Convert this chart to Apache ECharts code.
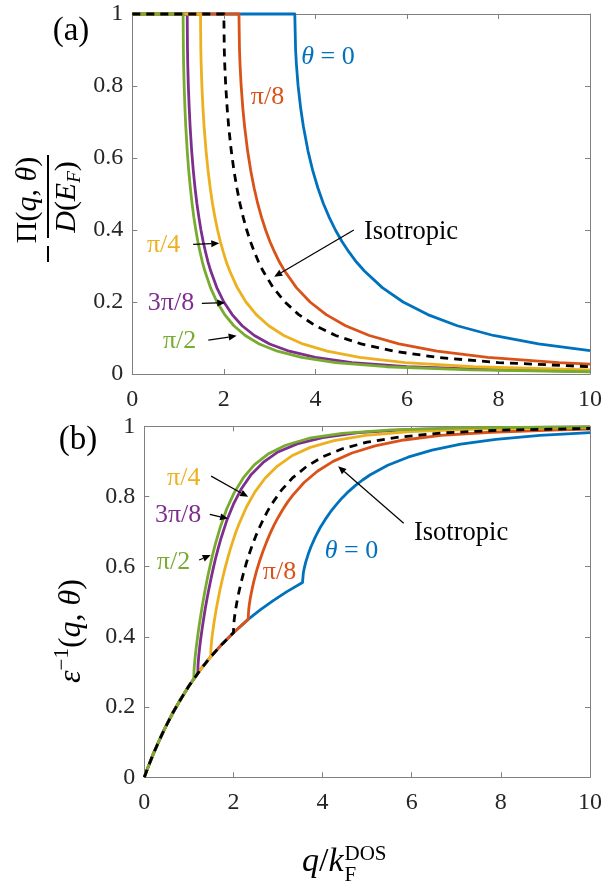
<!DOCTYPE html>
<html>
<head>
<meta charset="utf-8">
<script src="https://cdn.jsdelivr.net/npm/echarts@6/dist/echarts.min.js"></script>
<style>
html,body{margin:0;padding:0;background:#fff;}
#c{width:613px;height:884px;}
</style>
</head>
<body>
<div id="c"></div>
<script>
// ---------- DATA ----------
// Panel (a): -Pi(q,theta)/D(E_F)
const qA0 = [0,3.55,3.568,3.586,3.622,3.679,3.737,3.838,3.944,4.057,4.176,4.303,4.438,4.581,4.733,4.897,5.071,5.462,5.917,6.455,7.1,7.889,8.875,10];
const pA0 = [1,1,.900,.859,.801,.738,.688,.620,.564,.516,.473,.435,.400,.368,.339,.311,.286,.240,.200,.165,.134,.107,.0835,.065];
const qA1 = [0,2.33,2.342,2.354,2.378,2.415,2.453,2.519,2.589,2.663,2.741,2.824,2.913,3.006,3.107,3.214,3.329,3.585,3.883,4.236,4.66,5.178,5.825,6.657,7.767,9.32,10];
const pA1 = [1,1,.900,.859,.801,.738,.688,.620,.564,.516,.473,.435,.400,.368,.339,.311,.286,.240,.200,.165,.134,.107,.0835,.0633,.0461,.0318,.0275];
const qAi = [0,2,2.01,2.02,2.041,2.073,2.105,2.162,2.222,2.286,2.353,2.424,2.5,2.581,2.667,2.759,2.857,3.077,3.333,3.636,4,4.444,5,5.714,6.667,8,10];
const pAi = [1,1,.900,.859,.801,.738,.688,.620,.564,.516,.473,.435,.400,.368,.339,.311,.286,.240,.200,.165,.134,.107,.0835,.0633,.0461,.0318,.0202];
const qA2 = [0,1.49,1.497,1.505,1.52,1.544,1.568,1.611,1.656,1.703,1.753,1.806,1.863,1.923,1.987,2.055,2.129,2.292,2.483,2.709,2.98,3.311,3.725,4.257,4.967,5.96,7.45,10];
const pA2 = [1,1,.900,.859,.801,.738,.688,.620,.564,.516,.473,.435,.400,.368,.339,.311,.286,.240,.200,.165,.134,.107,.0835,.0633,.0461,.0318,.0202,.0112];
const qA3 = [0,1.2,1.206,1.212,1.224,1.244,1.263,1.297,1.333,1.371,1.412,1.455,1.5,1.548,1.6,1.655,1.714,1.846,2.0,2.182,2.4,2.667,3.0,3.429,4.0,4.8,6.0,8.0,10];
const pA3 = [1,1,.900,.859,.801,.738,.688,.620,.564,.516,.473,.435,.400,.368,.339,.311,.286,.240,.200,.165,.134,.107,.0835,.0633,.0461,.0318,.0202,.0113,.0072];
const qA4 = [0,1.11,1.116,1.121,1.133,1.15,1.168,1.2,1.233,1.269,1.306,1.345,1.388,1.432,1.48,1.531,1.586,1.708,1.85,2.018,2.22,2.467,2.775,3.171,3.7,4.44,5.55,7.4,10];
const pA4 = [1,1,.900,.859,.801,.738,.688,.620,.564,.516,.473,.435,.400,.368,.339,.311,.286,.240,.200,.165,.134,.107,.0835,.0633,.0461,.0318,.0202,.0113,.0062];

// Panel (b): inverse dielectric function
const qB0 = [0,0.05,0.1,0.2,0.3,0.4,0.5,0.65,0.8,1.0,1.25,1.5,1.75,2.0,2.33,2.6,2.9,3.2,3.55,3.568,3.586,3.622,3.679,3.737,3.838,3.944,4.057,4.176,4.303,4.438,4.581,4.733,4.897,5.071,5.462,5.917,6.455,7.1,7.889,8.875,10];
const eB0 = [0,.017,.034,.066,.095,.123,.149,.186,.219,.260,.305,.345,.380,.412,.450,.477,.504,.529,.555,.582,.594,.613,.636,.656,.685,.711,.734,.756,.776,.796,.814,.831,.847,.862,.889,.912,.932,.949,.963,.974,.982];
const qB1 = [0,0.05,0.1,0.2,0.3,0.4,0.5,0.65,0.8,1.0,1.25,1.5,1.75,2.0,2.33,2.342,2.354,2.378,2.415,2.453,2.519,2.589,2.663,2.741,2.824,2.913,3.006,3.107,3.214,3.329,3.585,3.883,4.236,4.66,5.178,5.825,6.657,7.767,9.32,10];
const eB1 = [0,.017,.034,.066,.095,.123,.149,.186,.219,.260,.305,.345,.380,.412,.450,.477,.490,.510,.534,.556,.588,.617,.644,.670,.695,.719,.741,.763,.784,.803,.840,.872,.900,.924,.944,.961,.974,.983,.990,.992];
const qBi = [0,0.05,0.1,0.2,0.3,0.4,0.5,0.65,0.8,1.0,1.25,1.5,1.75,2.0,2.01,2.02,2.041,2.073,2.105,2.162,2.222,2.286,2.353,2.424,2.5,2.581,2.667,2.759,2.857,3.077,3.333,3.636,4,4.444,5,5.714,6.667,8,10];
const eBi = [0,.017,.034,.066,.095,.123,.149,.186,.219,.260,.305,.345,.380,.412,.439,.452,.472,.496,.518,.550,.580,.609,.636,.662,.687,.711,.734,.757,.778,.818,.854,.885,.913,.936,.955,.969,.981,.989,.994];
const qB2 = [0,0.05,0.1,0.2,0.3,0.4,0.5,0.65,0.8,1.0,1.25,1.49,1.497,1.505,1.52,1.544,1.568,1.611,1.656,1.703,1.753,1.806,1.863,1.923,1.987,2.055,2.129,2.292,2.483,2.709,2.98,3.311,3.725,4.257,4.967,5.96,7.45,10];
const eB2 = [0,.017,.034,.066,.095,.123,.149,.186,.219,.260,.305,.343,.369,.381,.400,.423,.444,.477,.507,.537,.565,.593,.620,.647,.673,.699,.723,.770,.813,.852,.886,.916,.940,.959,.974,.985,.992,.997];
const qB3 = [0,0.05,0.1,0.2,0.3,0.4,0.5,0.65,0.8,1.0,1.1,1.2,1.206,1.212,1.224,1.244,1.263,1.297,1.333,1.371,1.412,1.455,1.5,1.548,1.6,1.655,1.714,1.846,2.0,2.182,2.4,2.667,3.0,3.429,4.0,4.8,6.0,8.0,10];
const eB3 = [0,.017,.034,.066,.095,.123,.149,.186,.219,.260,.278,.296,.320,.331,.349,.372,.392,.423,.453,.483,.512,.540,.568,.596,.624,.651,.678,.730,.778,.823,.863,.897,.927,.950,.968,.982,.991,.996,.998];
const qB4 = [0,0.05,0.1,0.2,0.3,0.4,0.5,0.65,0.8,1.0,1.11,1.116,1.121,1.133,1.15,1.168,1.2,1.233,1.269,1.306,1.345,1.388,1.432,1.48,1.531,1.586,1.708,1.85,2.018,2.22,2.467,2.775,3.171,3.7,4.44,5.55,7.4,10];
const eB4 = [0,.017,.034,.066,.095,.123,.149,.186,.219,.260,.280,.303,.314,.332,.354,.373,.404,.434,.463,.492,.520,.549,.577,.605,.633,.661,.714,.765,.811,.853,.890,.921,.946,.966,.980,.990,.996,.998];

const xTicks = [0, 2, 4, 6, 8, 10];
const yTicks = [0, 0.2, 0.4, 0.6, 0.8, 1];

// ---------- STYLE ----------
const C = {blue:'#0072BD', orange:'#D95319', yellow:'#EDB120', purple:'#7E2F8E', green:'#77AC30', black:'#000000'};
const SERIF = 'Liberation Serif';
const AX = '#808080';
const LBL = '#262626';
const TICK_FS = 24, MATH_FS = 26, WORD_FS = 26.5;

const zip = (a, b) => a.map((v, i) => [v, b[i]]);

function xAx(gi, pos) {
  return {type:'value', gridIndex:gi, position:pos, min:xTicks[0], max:xTicks[xTicks.length-1], interval:xTicks[1]-xTicks[0],
    axisLine:{show:true, onZero:false, lineStyle:{color:AX, width:1}},
    axisTick:{show:true, inside:true, length:5, lineStyle:{color:AX}},
    axisLabel:{show:false},
    splitLine:{show:false}};
}
function yAx(gi, pos) {
  return {type:'value', gridIndex:gi, position:pos, min:yTicks[0], max:yTicks[yTicks.length-1], interval:yTicks[1]-yTicks[0],
    axisLine:{show:true, onZero:false, lineStyle:{color:AX, width:1}},
    axisTick:{show:true, inside:true, length:5, lineStyle:{color:AX}},
    axisLabel:{show:false},
    splitLine:{show:false}};
}
function ser(xi, q, v, color, dashed) {
  return {type:'line', xAxisIndex:xi, yAxisIndex:xi, data:zip(q, v), showSymbol:false, symbol:'none',
    clip:false, silent:true, animation:false,
    lineStyle:{color:color, width:2.8, type: dashed ? [8,6] : 'solid', cap:'butt', join:'round'}};
}

const chart = echarts.init(document.getElementById('c'), null, {renderer:'canvas'});
chart.setOption({
  animation:false,
  backgroundColor:'#ffffff',
  textStyle:{fontFamily:SERIF},
  grid:[{left:132.3, top:14, width:457.7, height:360}, {left:144.3, top:426.3, width:445.7, height:351}],
  xAxis:[xAx(0,'bottom'), xAx(0,'top'), xAx(1,'bottom'), xAx(1,'top')],
  yAxis:[yAx(0,'left'), yAx(0,'right'), yAx(1,'left'), yAx(1,'right')],
  series:[
    ser(0, qA0, pA0, C.blue), ser(0, qA1, pA1, C.orange), ser(0, qA3, pA3, C.purple),
    ser(0, qA2, pA2, C.yellow), ser(0, qA4, pA4, C.green), ser(0, qAi, pAi, C.black, true),
    ser(2, qB0, eB0, C.blue), ser(2, qB1, eB1, C.orange), ser(2, qB3, eB3, C.purple),
    ser(2, qB2, eB2, C.yellow), ser(2, qB4, eB4, C.green), ser(2, qBi, eBi, C.black, true)
  ]
});

// ---------- TEXT ----------
const px = (g, p) => chart.convertToPixel({gridIndex:g}, p);
const g = [];

// tick labels placed through the axes' own scales
[[0, 14], [1, 13]].forEach(([gi, mx]) => {
  xTicks.forEach(t => {
    const p = px(gi, [t, yTicks[0]]);
    g.push({type:'text', x:p[0], y:p[1] + mx, z:100, silent:true,
      style:{text:String(t), fontFamily:SERIF, fontSize:TICK_FS, fill:LBL, align:'center', verticalAlign:'top'}});
  });
  yTicks.forEach(t => {
    const p = px(gi, [xTicks[0], t]);
    g.push({type:'text', x:p[0] - 9, y:p[1], z:100, silent:true,
      style:{text:String(t), fontFamily:SERIF, fontSize:TICK_FS, fill:LBL, align:'right', verticalAlign:'middle'}});
  });
});

function label(gi, p, txt, color, size, rich) {
  const pt = px(gi, p);
  return {type:'text', x:pt[0], y:pt[1], z:100, silent:true,
    style:{text:txt, fill:color, fontFamily:SERIF, fontSize:size, align:'left', verticalAlign:'middle', rich:rich||{}}};
}
function arrow(gi, a, b) {
  const p1 = px(gi, a), p2 = px(gi, b);
  const dx = p2[0]-p1[0], dy = p2[1]-p1[1], L = Math.sqrt(dx*dx+dy*dy);
  const ux = dx/L, uy = dy/L, hl = 8, hw = 3.5;
  const bx = p2[0]-ux*hl, by = p2[1]-uy*hl;
  return [
    {type:'line', z:100, silent:true, shape:{x1:p1[0], y1:p1[1], x2:bx, y2:by}, style:{stroke:'#000', lineWidth:1.2}},
    {type:'polygon', z:100, silent:true, shape:{points:[[p2[0],p2[1]],[bx-uy*hw,by+ux*hw],[bx+uy*hw,by-ux*hw]]}, style:{fill:'#000'}}
  ];
}
const itRich = (color, size) => ({i:{fontStyle:'italic', fontFamily:SERIF, fontSize:size, fill:color, color:color}});

// panel (a)
g.push(label(0, [3.69, 0.88], '{i|θ} = 0', C.blue, MATH_FS, itRich(C.blue, MATH_FS)));
g.push(label(0, [2.59, 0.77], 'π/8', C.orange, MATH_FS));
g.push(label(0, [5.06, 0.394], 'Isotropic', '#000', WORD_FS));
g.push(...arrow(0, [4.84, 0.40], [3.10, 0.27]));
g.push(label(0, [0.32, 0.358], 'π/4', C.yellow, MATH_FS));
g.push(...arrow(0, [1.33, 0.360], [1.90, 0.363]));
g.push(label(0, [0.34, 0.197], '3π/8', C.purple, MATH_FS));
g.push(...arrow(0, [1.52, 0.196], [2.03, 0.198]));
g.push(label(0, [0.67, 0.092], 'π/2', C.green, MATH_FS));
g.push(...arrow(0, [1.66, 0.094], [2.28, 0.106]));
// panel (b)
g.push(label(1, [0.51, 0.852], 'π/4', C.yellow, MATH_FS));
g.push(...arrow(1, [1.50, 0.858], [2.33, 0.799]));
g.push(label(1, [0.24, 0.747], '3π/8', C.purple, MATH_FS));
g.push(...arrow(1, [1.47, 0.749], [1.88, 0.737]));
g.push(label(1, [0.28, 0.613], 'π/2', C.green, MATH_FS));
g.push(...arrow(1, [1.23, 0.619], [1.49, 0.633]));
g.push(label(1, [2.66, 0.585], 'π/8', C.orange, MATH_FS));
g.push(label(1, [4.05, 0.644], '{i|θ} = 0', C.blue, MATH_FS, itRich(C.blue, MATH_FS)));
g.push(label(1, [6.05, 0.695], 'Isotropic', '#000', WORD_FS));
g.push(...arrow(1, [5.82, 0.724], [4.35, 0.886]));

// panel letters
g.push({type:'text', x:71, y:31, z:100, style:{text:'(a)', fontFamily:SERIF, fontSize:33, fill:'#000', align:'center', verticalAlign:'middle'}});
g.push({type:'text', x:78, y:440, z:100, style:{text:'(b)', fontFamily:SERIF, fontSize:33, fill:'#000', align:'center', verticalAlign:'middle'}});

// y title (a): - Pi(q,theta) / D(E_F)
const R = Math.PI/2;
const mathRich = {
  n:{fontFamily:SERIF, fontSize:30, fill:'#000', color:'#000', lineHeight:34},
  i:{fontFamily:SERIF, fontStyle:'italic', fontSize:30, fill:'#000', color:'#000', lineHeight:34},
  sub:{fontFamily:SERIF, fontStyle:'italic', fontSize:19, fill:'#000', color:'#000', verticalAlign:'bottom', lineHeight:34}
};
g.push({type:'text', x:28, y:200, rotation:R, z:100, style:{text:'{n|Π(}{i|q}{n|, }{i|θ}{n|)}', align:'center', verticalAlign:'middle', rich:mathRich}});
g.push({type:'text', x:67, y:197, rotation:R, z:100, style:{text:'{i|D}{n|(}{i|E}{sub|F}{n|)}', align:'center', verticalAlign:'middle', rich:mathRich}});
g.push({type:'line', z:100, shape:{x1:48, y1:155, x2:48, y2:238}, style:{stroke:'#000', lineWidth:2}});
g.push({type:'line', z:100, shape:{x1:48, y1:246, x2:48, y2:262}, style:{stroke:'#000', lineWidth:2}});

// y title (b): epsilon^-1(q,theta)
const bigRich = {
  n:{fontFamily:SERIF, fontSize:32, fill:'#000', color:'#000', lineHeight:40},
  i:{fontFamily:SERIF, fontStyle:'italic', fontSize:32, fill:'#000', color:'#000', lineHeight:40},
  sup:{fontFamily:SERIF, fontSize:21, fill:'#000', color:'#000', verticalAlign:'top', lineHeight:40}
};
g.push({type:'text', x:72, y:631, rotation:R, z:100, style:{text:'{i|ε}{sup|−1}{n|(}{i|q}{n|, }{i|θ}{n|)}', align:'center', verticalAlign:'middle', rich:bigRich}});

// x title: q / k_F^DOS
const mctx = document.createElement('canvas').getContext('2d');
mctx.font = 'italic 34px "Liberation Serif"';
const wq = mctx.measureText('q').width, wk = mctx.measureText('k').width;
mctx.font = '34px "Liberation Serif"';
const ws = mctx.measureText('/').width;
const x0 = 302;
const xRich = {
  n:{fontFamily:SERIF, fontSize:34, fill:'#000', color:'#000', lineHeight:40},
  i:{fontFamily:SERIF, fontStyle:'italic', fontSize:34, fill:'#000', color:'#000', lineHeight:40}
};
const xEnd = x0 + wq + ws + wk;
g.push({type:'text', x:x0, y:862, z:100, style:{text:'{i|q}{n|/}{i|k}', align:'left', verticalAlign:'middle', rich:xRich}});
g.push({type:'text', x:xEnd + 1, y:854, z:100, style:{text:'DOS', fontFamily:SERIF, fontSize:21, fill:'#000', align:'left', verticalAlign:'middle'}});
g.push({type:'text', x:xEnd + 1, y:875, z:100, style:{text:'F', fontFamily:SERIF, fontSize:21, fill:'#000', align:'left', verticalAlign:'middle'}});

chart.setOption({graphic:g});
</script>
</body>
</html>
